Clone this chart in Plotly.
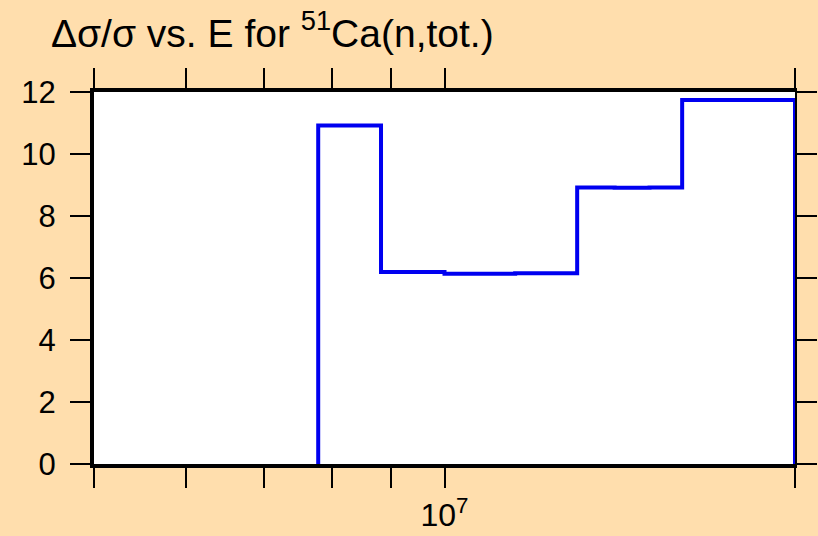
import plotly.graph_objects as go

# Bin edges (eV) and relative uncertainty values (%)
bin_edges = [7.79e6, 8.82e6, 1.0e7, 1.15e7, 1.3e7, 1.4e7, 1.5e7, 1.6e7, 2.0e7]
bin_values = [10.92, 6.19, 6.14, 6.15, 8.92, 8.91, 8.92, 11.74]

x_major_ticks = [1e7, 2e7]
x_major_labels = ["10<sup>7</sup>", ""]
x_minor_ticks = [5e6, 6e6, 7e6, 8e6, 9e6]
y_ticks = [0, 2, 4, 6, 8, 10, 12]

# build step path
xs = [bin_edges[0]]
ys = [0]
for e, v in zip(bin_edges[:-1], bin_values):
    xs.append(e)
    ys.append(v)
xs.append(bin_edges[-1]); ys.append(bin_values[-1])
xs.append(bin_edges[-1]); ys.append(0)

BG = "#FFDEAD"
FONT = "Liberation Sans, Arial, sans-serif"
W, H = 818, 536

fig = go.Figure()
fig.add_trace(go.Scatter(x=xs, y=ys, mode="lines", line=dict(color="#0000F0", width=4, shape="hv"),
                         hoverinfo="skip", showlegend=False, cliponaxis=False))
fig.add_trace(go.Scatter(x=[], y=[], yaxis="y2", showlegend=False, hoverinfo="skip"))

fig.update_layout(
    width=W, height=H,
    paper_bgcolor=BG, plot_bgcolor="white",
    margin=dict(l=94, r=3, t=92, b=63),
    title=dict(text="\u0394\u03c3/\u03c3 vs. E for <sup>51</sup>Ca(n,tot.)",
               x=51 / W, xanchor="left", y=1 - 33 / H, yanchor="middle",
               font=dict(family=FONT, size=39, color="black")),
    font=dict(family=FONT, size=31, color="black"),
    xaxis=dict(type="log", range=[6.69897, 7.30103], showgrid=False, zeroline=False,
               showline=True, linewidth=4, linecolor="black", mirror="allticks",
               ticks="outside", ticklen=20, tickwidth=2, tickcolor="black",
               tickmode="array", tickvals=x_major_ticks, ticktext=x_major_labels,
               tickfont=dict(family=FONT, size=32),
               minor=dict(tickmode="array", tickvals=x_minor_ticks, ticks="outside",
                          ticklen=10, tickwidth=2, tickcolor="black", showgrid=False)),
    yaxis=dict(range=[0, 12], showgrid=False, zeroline=False,
               showline=True, linewidth=4, linecolor="black", mirror=False,
               ticks="outside", ticklen=20, tickwidth=2, tickcolor="black",
               tickmode="array", tickvals=y_ticks, ticklabelstandoff=8,
               tickfont=dict(family=FONT, size=31)),
    yaxis2=dict(range=[0, 12], overlaying="y", side="right", showgrid=False, zeroline=False,
                showline=True, linewidth=2, linecolor="black",
                ticks="outside", ticklen=20, tickwidth=2, tickcolor="black",
                tickmode="array", tickvals=y_ticks, showticklabels=False),
)

fig.write_html("out.html", config={"displayModeBar": False},
               post_script="document.documentElement.style.margin='0';"
                           "document.documentElement.style.overflow='hidden';"
                           "document.documentElement.style.background='" + BG + "';"
                           "document.body.style.margin='0';document.body.style.padding='0';"
                           "document.body.style.overflow='hidden';"
                           "document.body.style.background='" + BG + "';")
